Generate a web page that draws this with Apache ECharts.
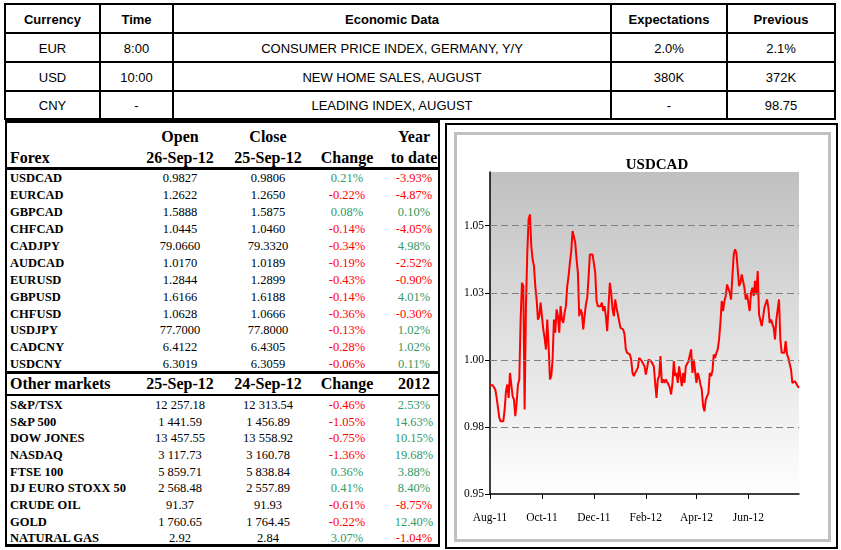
<!DOCTYPE html>
<html><head><meta charset="utf-8">
<script src="https://cdn.jsdelivr.net/npm/echarts@6/dist/echarts.min.js"></script>
<style>
html,body{margin:0;padding:0;background:#fff;}
#page{position:relative;width:841px;height:550px;overflow:hidden;background:#fff;}
.t{position:absolute;white-space:nowrap;line-height:1;}
.ln{position:absolute;background:#000;}
#chart{position:absolute;left:447px;top:125px;width:389px;height:421px;}
.box{position:absolute;box-sizing:border-box;pointer-events:none;}
</style></head><body><div id="page"><div id="chart"></div></div>
<script>
// ---------- calendar table ----------
const calHeaders = ['Currency', 'Time', 'Economic Data', 'Expectations', 'Previous'];
const calCurrency = ['EUR', 'USD', 'CNY'];
const calTime = ['8:00', '10:00', '-'];
const calEvent = ['CONSUMER PRICE INDEX, GERMANY, Y/Y', 'NEW HOME SALES, AUGUST', 'LEADING INDEX, AUGUST'];
const calExpect = ['2.0%', '380K', '-'];
const calPrev = ['2.1%', '372K', '98.75'];

// ---------- forex table ----------
const fxHeaderTop = ['Open', 'Close', '', 'Year'];
const fxHeaderBottom = ['26-Sep-12', '25-Sep-12', 'Change', 'to date'];
const fxNames = ['USDCAD','EURCAD','GBPCAD','CHFCAD','CADJPY','AUDCAD','EURUSD','GBPUSD','CHFUSD','USDJPY','CADCNY','USDCNY'];
const fxOpen = ['0.9827','1.2622','1.5888','1.0445','79.0660','1.0170','1.2844','1.6166','1.0628','77.7000','6.4122','6.3019'];
const fxClose = ['0.9806','1.2650','1.5875','1.0460','79.3320','1.0189','1.2899','1.6188','1.0666','77.8000','6.4305','6.3059'];
const fxChange = ['0.21%','-0.22%','0.08%','-0.14%','-0.34%','-0.19%','-0.43%','-0.14%','-0.36%','-0.13%','-0.28%','-0.06%'];
const fxYtd = ['-3.93%','-4.87%','0.10%','-4.05%','4.98%','-2.52%','-0.90%','4.01%','-0.30%','1.02%','1.02%','0.11%'];

// ---------- other markets ----------
const mkHeader = ['25-Sep-12', '24-Sep-12', 'Change', '2012'];
const mkNames = ['S&P/TSX','S&P 500','DOW JONES','NASDAQ','FTSE 100','DJ EURO STOXX 50','CRUDE OIL','GOLD','NATURAL GAS'];
const mkLast = ['12 257.18','1 441.59','13 457.55','3 117.73','5 859.71','2 568.48','91.37','1 760.65','2.92'];
const mkPrev = ['12 313.54','1 456.89','13 558.92','3 160.78','5 838.84','2 557.89','91.93','1 764.45','2.84'];
const mkChange = ['-0.46%','-1.05%','-0.75%','-1.36%','0.36%','0.41%','-0.61%','-0.22%','3.07%'];
const mk2012 = ['2.53%','14.63%','10.15%','19.68%','3.88%','8.40%','-8.75%','12.40%','-1.04%'];

// ---------- USDCAD chart ----------
const chartTitle = 'USDCAD';
const usdcad = [
0.9905,0.9905,0.9905,0.9904,0.9889,0.9858,0.9821,0.9784,0.9771,0.9767,
0.9771,0.9815,0.9883,0.9908,0.9858,0.9951,0.9958,0.9864,0.9852,0.9790,
0.9840,0.9908,0.9927,1.0150,1.0287,1.0275,0.9815,1.0200,1.0399,1.0524,
1.0542,1.0424,1.0374,1.0350,1.0275,1.0225,1.0150,1.0163,1.0213,1.0163,
1.0113,1.0082,1.0039,1.0150,1.0051,0.9927,0.9939,1.0001,1.0150,1.0101,
1.0188,1.0163,1.0101,1.0200,1.0150,1.0138,1.0175,1.0200,1.0275,1.0312,
1.0362,1.0405,1.0480,1.0474,1.0437,1.0374,1.0325,1.0163,1.0188,1.0175,
1.0113,1.0163,1.0206,1.0231,1.0306,1.0393,1.0387,1.0393,1.0393,1.0325,
1.0219,1.0200,1.0206,1.0200,1.0213,1.0182,1.0200,1.0163,1.0107,1.0200,
1.0287,1.0250,1.0188,1.0163,1.0225,1.0194,1.0169,1.0144,1.0119,1.0126,
1.0113,1.0095,1.0039,1.0026,1.0020,1.0020,1.0001,0.9951,0.9939,0.9951,
0.9945,0.9970,1.0007,1.0001,0.9995,0.9989,0.9976,0.9945,0.9970,1.0001,
0.9995,0.9995,0.9989,0.9976,0.9914,0.9858,0.9927,0.9939,1.0014,0.9914,
0.9927,0.9914,0.9927,0.9933,0.9908,0.9896,0.9871,0.9914,0.9995,0.9939,
0.9951,0.9914,0.9976,0.9983,0.9902,0.9951,0.9914,0.9976,0.9970,0.9995,
0.9989,1.0039,0.9951,1.0001,0.9995,0.9914,0.9951,0.9933,0.9908,0.9889,
0.9827,0.9808,0.9852,0.9858,0.9877,0.9951,0.9939,0.9958,1.0020,1.0007,
1.0026,1.0039,1.0076,1.0138,1.0219,1.0182,1.0219,1.0238,1.0281,1.0287,
1.0250,1.0225,1.0312,1.0393,1.0412,1.0399,1.0393,1.0275,1.0287,1.0318,
1.0312,1.0269,1.0225,1.0244,1.0250,1.0182,1.0250,1.0269,1.0238,1.0294,
1.0244,1.0331,1.0169,1.0163,1.0126,1.0157,1.0194,1.0200,1.0225,1.0194,
1.0138,1.0150,1.0150,1.0119,1.0076,1.0150,1.0188,1.0225,1.0076,1.0026,
1.0020,1.0026,1.0070,1.0020,1.0007,1.0001,0.9964,0.9914,0.9908,0.9920,
0.9927,0.9902,0.9896
];
const xTickIndex = [0, 39, 78, 117, 155, 194];
const xTickLabels = ['Aug-11', 'Oct-11', 'Dec-11', 'Feb-12', 'Apr-12', 'Jun-12'];
const yTickValues = [0.95, 0.975, 1.0, 1.025, 1.05];
const yTickLabels = ['0.95', '0.98', '1.00', '1.03', '1.05'];
const yGridValues = [0.975, 1.0, 1.025, 1.05];

// ---------- helpers ----------
const page = document.getElementById('page');
function line(x, y, w, h, color) {
  const d = document.createElement('div');
  d.className = 'ln';
  d.style.left = x + 'px'; d.style.top = y + 'px';
  d.style.width = w + 'px'; d.style.height = h + 'px';
  if (color) d.style.background = color;
  page.appendChild(d);
}
function txt(x, y, s, font, align, color) {
  const d = document.createElement('div');
  d.className = 't';
  d.textContent = s;
  d.style.font = font;
  d.style.left = x + 'px'; d.style.top = y + 'px';
  d.style.color = color || '#000';
  d.style.transform = align === 'left' ? 'translateY(-50%)' : 'translate(-50%,-50%)';
  page.appendChild(d);
}
const GREEN = '#339966', RED = '#ff0000';
const signColor = s => s.trim().charAt(0) === '-' ? RED : GREEN;

// ---------- top calendar table ----------
const colEdges = [4, 99, 172, 610, 726, 834];
const rowEdges = [3, 32, 61, 90, 118];
colEdges.forEach(x => line(x, 3, 2, 117));
rowEdges.forEach(y => line(4, y, 832, 2));
const calCols = [calCurrency, calTime, calEvent, calExpect, calPrev];
const sansB = 'bold 13px "Liberation Sans", Arial, sans-serif';
const sans = '13px "Liberation Sans", Arial, sans-serif';
for (let c = 0; c < 5; c++) {
  const cx = (colEdges[c] + 2 + colEdges[c + 1]) / 2;
  txt(cx, (rowEdges[0] + 2 + rowEdges[1]) / 2, calHeaders[c], sansB);
  for (let r = 0; r < 3; r++) {
    const cy = (rowEdges[r + 1] + 2 + rowEdges[r + 2]) / 2;
    txt(cx, cy, calCols[c][r], sans);
  }
}

// ---------- left market table ----------
line(5, 120, 435, 3);
line(5, 120, 2, 427);
line(438, 120, 2, 427);
line(5, 167, 435, 3);
line(5, 371, 435, 3);
line(5, 394, 435, 2);
line(5, 544, 435, 3);
const serifHB = 'bold 16px "Liberation Serif", "Times New Roman", serif';
const serifNB = 'bold 12.5px "Liberation Serif", "Times New Roman", serif';
const serifV = '12.5px "Liberation Serif", "Times New Roman", serif';
const valCols = [180, 268, 347, 414];
txt(10, 158, 'Forex', serifHB, 'left');
fxHeaderTop.forEach((s, i) => { if (s) txt(valCols[i], 137, s, serifHB); });
fxHeaderBottom.forEach((s, i) => txt(valCols[i], 158, s, serifHB));
fxNames.forEach((n, r) => {
  const cy = 178.3 + r * 16.9;
  txt(10, cy, n, serifNB, 'left');
  txt(valCols[0], cy, fxOpen[r], serifV);
  txt(valCols[1], cy, fxClose[r], serifV);
  txt(valCols[2], cy, fxChange[r], serifV, 'c', signColor(fxChange[r]));
  txt(valCols[3], cy, fxYtd[r], serifV, 'c', signColor(fxYtd[r]));
});
txt(10, 384, 'Other markets', serifHB, 'left');
mkHeader.forEach((s, i) => txt(valCols[i], 384, s, serifHB));
mkNames.forEach((n, r) => {
  const cy = 405 + r * 16.67;
  txt(10, cy, n, serifNB, 'left');
  txt(valCols[0], cy, mkLast[r], serifV);
  txt(valCols[1], cy, mkPrev[r], serifV);
  txt(valCols[2], cy, mkChange[r], serifV, 'c', signColor(mkChange[r]));
  txt(valCols[3], cy, mk2012[r], serifV, 'c', signColor(mk2012[r]));
});

// ---------- right panel frames ----------
const outer = document.createElement('div');
outer.className = 'box';
Object.assign(outer.style, {left:'445px', top:'123px', width:'393px', height:'426px', border:'2px solid #000'});
page.appendChild(outer);
const inner = document.createElement('div');
inner.className = 'box';
Object.assign(inner.style, {left:'454px', top:'132px', width:'377px', height:'410px', border:'3px solid #c0c0c0'});
page.appendChild(inner);

// ---------- chart ----------
const xCats = usdcad.map((_, i) => String(i));
const serifFont = '"Liberation Serif", "Times New Roman", serif';
const chart = echarts.init(document.getElementById('chart'), null, {renderer: 'canvas'});
const showX = i => xTickIndex.indexOf(i) >= 0;
chart.setOption({
  animation: false,
  title: {
    text: chartTitle, left: 205, top: 28, textAlign: 'center',
    textStyle: {fontFamily: serifFont, fontWeight: 'bold', fontSize: 15, color: '#000'}
  },
  grid: {
    left: 43, right: 37, top: 47, bottom: 52, show: true, borderWidth: 0,
    backgroundColor: {type: 'linear', x: 0, y: 0, x2: 0, y2: 1,
      colorStops: [{offset: 0, color: '#c0c0c0'}, {offset: 1, color: '#ffffff'}]}
  },
  xAxis: {
    type: 'category', boundaryGap: false, data: xCats,
    axisLine: {show: true, lineStyle: {color: '#000', width: 1.5}},
    axisTick: {show: true, length: 5, interval: showX, lineStyle: {color: '#000', width: 1}},
    axisLabel: {
      interval: showX, margin: 18, fontFamily: serifFont, fontSize: 11.5, color: '#000',
      formatter: (v, i) => { const k = xTickIndex.indexOf(i); return k >= 0 ? xTickLabels[k] : ''; }
    },
    splitLine: {show: false}
  },
  yAxis: {
    type: 'value', min: 0.95, max: 1.07, interval: 0.025,
    axisLine: {show: true, lineStyle: {color: '#000', width: 1.5}},
    axisTick: {show: true, length: 5, customValues: yTickValues, lineStyle: {color: '#000', width: 1}},
    axisLabel: {
      customValues: yTickValues, margin: 6, fontFamily: serifFont, fontSize: 11.5, color: '#000',
      formatter: v => { const k = yTickValues.findIndex(t => Math.abs(t - v) < 1e-9); return k >= 0 ? yTickLabels[k] : ''; }
    },
    splitLine: {show: false}
  },
  series: [{
    type: 'line', data: usdcad, symbol: 'none', showSymbol: false,
    lineStyle: {color: '#ff0000', width: 2}, itemStyle: {color: '#ff0000'},
    markLine: {
      silent: true, symbol: ['none', 'none'], label: {show: false}, precision: 6,
      lineStyle: {color: '#808080', type: [7, 4], width: 1},
      emphasis: {disabled: true},
      data: yGridValues.map(v => ({yAxis: v}))
    },
    z: 3
  }]
});
</script></body></html>
